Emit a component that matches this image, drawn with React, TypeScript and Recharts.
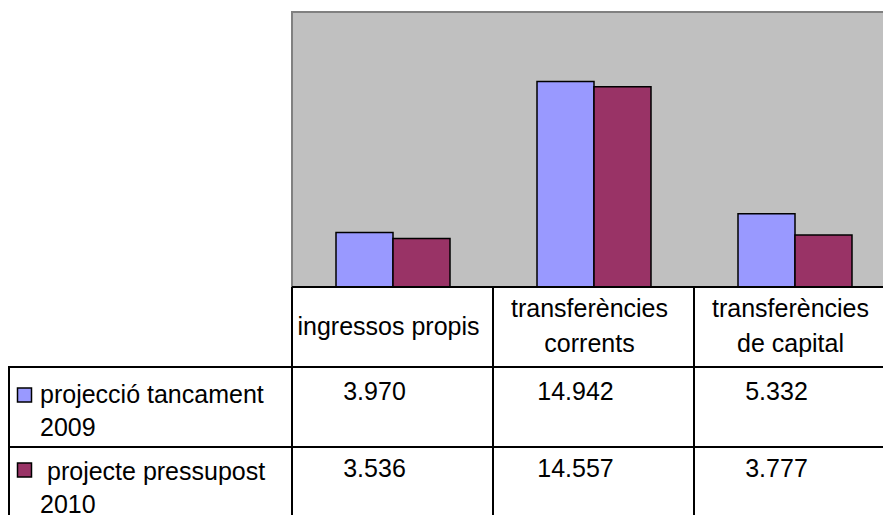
import { BarChart, Bar, XAxis, YAxis, ReferenceArea } from 'recharts'

const categories = ['ingressos propis', 'transferències corrents', 'transferències de capital']
const headerLines = [['ingressos propis'], ['transferències', 'corrents'], ['transferències', 'de capital']]
const tancament2009 = [3970, 14942, 5332]
const pressupost2010 = [3536, 14557, 3777]
const seriesLabels = [
  ['projecció tancament', '2009'],
  ['projecte pressupost', '2010'],
]
const seriesColors = ['#9999FF', '#993366']

const data = categories.map((name, i) => ({
  name,
  tancament: tancament2009[i],
  pressupost: pressupost2010[i],
}))

const W = 900
const H = 515
const LEFT = 292
const TOP = 12
const PLOT_BOTTOM = 287
const XAXIS_H = 30
const RIGHT = 5
const BAND = (W - LEFT - RIGHT) / categories.length
const ROW1 = 367
const ROW2 = 447
const FONT = '"Liberation Sans", Arial, sans-serif'

const fmt = (v: number) => String(v).replace(/\B(?=(\d{3})+(?!\d))/g, '.')

const TableTick = (props: any) => {
  const { x, index } = props
  const left = x - BAND / 2
  const right = x + BAND / 2
  const lines = headerLines[index] || []
  const baselines = lines.length === 1 ? [335] : [317, 352]
  const txt = { fontFamily: FONT, fontSize: 25, fill: '#000' }
  return (
    <g>
      <line x1={left} x2={left} y1={PLOT_BOTTOM} y2={H} stroke="#000" strokeWidth={2} />
      <line x1={left} x2={right} y1={ROW1} y2={ROW1} stroke="#000" strokeWidth={2} />
      <line x1={left} x2={right} y1={ROW2} y2={ROW2} stroke="#000" strokeWidth={2} />
      {lines.map((l, i) => (
        <text key={i} x={x - 4} y={baselines[i]} textAnchor="middle" {...txt}>
          {l}
        </text>
      ))}
      <text x={x - 18} y={400} textAnchor="middle" {...txt}>
        {fmt(tancament2009[index])}
      </text>
      <text x={x - 18} y={477} textAnchor="middle" {...txt}>
        {fmt(pressupost2010[index])}
      </text>
      {index === 0 && (
        <g>
          <line x1={9} x2={9} y1={ROW1 - 1} y2={H} stroke="#000" strokeWidth={2} />
          <line x1={9} x2={LEFT} y1={ROW1} y2={ROW1} stroke="#000" strokeWidth={2} />
          <line x1={9} x2={LEFT} y1={ROW2} y2={ROW2} stroke="#000" strokeWidth={2} />
          <rect x={17.5} y={388} width={14} height={14} fill={seriesColors[0]} stroke="#000" strokeWidth={1.5} />
          <rect x={17.5} y={463} width={14} height={14} fill={seriesColors[1]} stroke="#000" strokeWidth={1.5} />
          <text x={40} y={403} {...txt}>{seriesLabels[0][0]}</text>
          <text x={40} y={436} {...txt}>{seriesLabels[0][1]}</text>
          <text x={47} y={480} {...txt}>{seriesLabels[1][0]}</text>
          <text x={40} y={513} {...txt}>{seriesLabels[1][1]}</text>
        </g>
      )}
    </g>
  )
}

export default function App() {
  return (
    <div style={{ position: 'absolute', left: 0, top: 0, width: 883, height: 515, overflow: 'hidden', background: '#fff' }}>
      <BarChart
        width={W}
        height={H}
        data={data}
        barGap={0}
        margin={{ top: TOP, left: LEFT, right: RIGHT, bottom: H - PLOT_BOTTOM - XAXIS_H }}
      >
        <YAxis hide domain={[0, 20000]} />
        <ReferenceArea
          y1={0}
          y2={20000}
          fill="#C0C0C0"
          fillOpacity={1}
          stroke="#808080"
          strokeWidth={2}
          ifOverflow="visible"
        />
        <XAxis
          dataKey="name"
          height={XAXIS_H}
          interval={0}
          tickLine={false}
          axisLine={{ stroke: '#000', strokeWidth: 2 }}
          tick={<TableTick />}
        />
        <Bar dataKey="tancament" fill={seriesColors[0]} stroke="#000" strokeWidth={1.5} barSize={57} isAnimationActive={false} />
        <Bar dataKey="pressupost" fill={seriesColors[1]} stroke="#000" strokeWidth={1.5} barSize={57} isAnimationActive={false} />
      </BarChart>
    </div>
  )
}
